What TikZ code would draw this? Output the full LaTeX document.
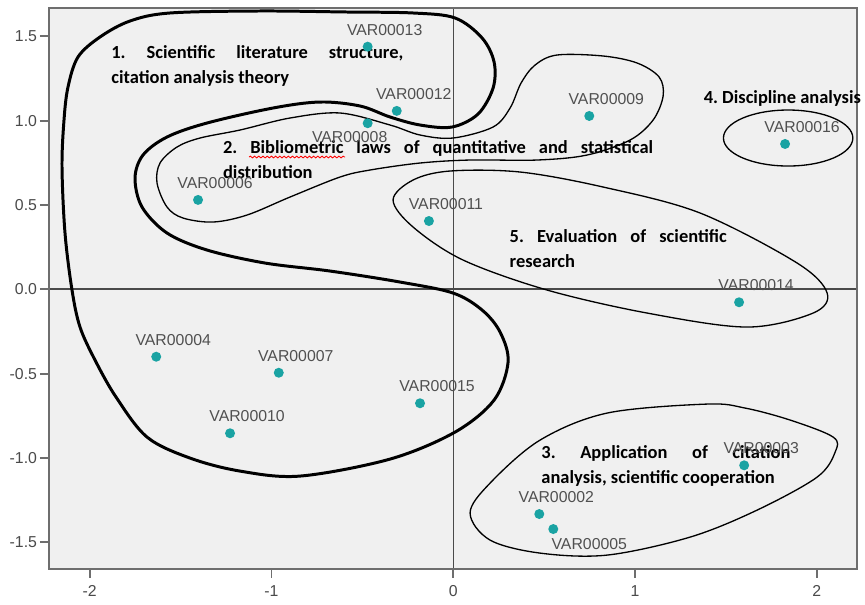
\documentclass[tikz,border=0pt]{standalone}
\usepackage{fontspec}
\setmainfont{Liberation Sans}
\newfontfamily\grpfont{Carlito}
\usetikzlibrary{positioning,decorations.pathmorphing}
\definecolor{C0}{HTML}{1AA3A3}
\definecolor{plotbg}{HTML}{F0F0F0}
\definecolor{axgray}{HTML}{4A4A4A}
\definecolor{framegray}{HTML}{6E6E6E}
\definecolor{lblgray}{HTML}{505050}
\frenchspacing
\tikzset{
    pt/.style = {circle, fill=C0, inner sep=0pt, minimum size=0.2cm},
    lbl/.style = {text=lblgray, font=\fontsize{9}{10}\selectfont, inner sep=0pt, xshift=0.34cm, yshift=0.34cm},
    ticklbl/.style = {text=axgray, font=\fontsize{9}{10}\selectfont, inner sep=0pt},
    grp/.style = {font=\grpfont\bfseries\fontsize{10.5}{14.2}\selectfont, inner sep=0pt, align=justify, anchor=base west},
    hull/.style = {line width=0.75pt},
    bighull/.style = {line width=1.7pt},
}

\begin{document}
\begin{tikzpicture}[x=3.636cm, y=3.372cm]
    \useasboundingbox [fill=white] (-2.4934,-1.8725) rectangle (2.2646,1.7159);
    % plot area and axes
    \fill [plotbg] (-2.2239,-1.659) rectangle (2.2195,1.6685);
    \draw [axgray, line width=0.9pt] (-2.2239,0) -- (2.2195,0);
    \draw [axgray, line width=0.9pt] (0,-1.659) -- (0,1.6685);
    \draw [framegray, line width=1.1pt] (-2.2239,-1.659) rectangle (2.2195,1.6685);
    \foreach \yy/\ylab [count=\i] in {-1.5/-1.5, -1/-1.0, -0.5/-0.5, 0/0.0, 0.5/0.5, 1/1.0, 1.5/1.5} {
        \draw [framegray, line width=1.1pt] (-2.2734,\yy) -- (-2.2239,\yy);
        \node [ticklbl, anchor=east] (ylab\i) at (-2.288,\yy) {\ylab};
    }
    \foreach \xx [count=\i] in {-2,-1,0,1,2} {
        \draw [framegray, line width=1.1pt] (\xx,-1.659) -- (\xx,-1.7124);
        \node [ticklbl] (xlab\i) at (\xx,-1.789) {\xx};
    }

    % group outlines (drawn in pixel units)
    \begin{scope}[x=0.02cm, y=-0.02cm, shift={(-9.066cm,5.786cm)}]
        \draw [bighull] plot [smooth cycle, tension=0.55] coordinates {
            (170,13) (260,11) (346,12) (413,13) (455,18) (482,38) (494,62) (493,88)
            (478,114) (452,127) (420,125) (390,117) (360,106) (320,102) (273,108)
            (207,123) (167,137) (143,155) (135,178) (142,207) (167,233) (207,250)
            (265,263) (330,271) (400,282) (453,293) (482,310) (500,332) (508,362)
            (494,400) (455,432) (390,459) (300,476) (240,471) (190,458) (147,437)
            (116,397) (95,360) (80,327) (72,290) (65,233) (62,167) (64,120) (68,87)
            (78,57) (100,37) (130,21)};
        \draw [hull] plot [smooth cycle, tension=0.55] coordinates {
            (200,138) (240,130) (290,118) (340,113) (390,125) (420,135) (453,138)
            (493,127) (510,108) (521,83) (535,65) (557,55) (603,56) (637,63)
            (659,77) (663,96) (653,120) (630,140) (587,155) (537,160) (470,160)
            (420,163) (370,170) (340,177) (290,197) (247,215) (213,222) (183,218)
            (167,207) (157,183) (160,163) (177,147)};
        \draw [hull] plot [smooth cycle, tension=0.55] coordinates {
            (393,200) (413,180) (450,171) (520,172) (603,187) (700,213) (797,263)
            (827,293) (813,313) (747,327) (647,313) (547,290) (463,260) (413,227)};
        \draw [hull] plot [smooth cycle, tension=0.55] coordinates {
            (470,513) (490,483) (540,440) (607,413) (707,404) (745,408) (790,420)
            (833,437) (835,452) (817,477) (757,510) (690,537) (607,555) (540,553)
            (490,540)};
        \draw [hull] (788,138) ellipse [x radius=1.294cm, y radius=0.56cm];

        % group titles
        \node [grp, text width=5.84cm] (g1) at (111,58.5) {1. Scientific literature structure,\linebreak citation analysis theory};
        \node [grp, text width=8.6cm] (g2) at (222.7,153.3) {2. Bibliometric laws of quantitative and statistical\linebreak distribution};
        \node [grp, text width=4.98cm] (g3) at (541,458.3) {3. Application of citation\linebreak \mbox{analysis, scientific cooperation}};
        \node [grp] (g4) at (703.3,103.3) {4. Discipline analysis};
        \node [grp, text width=4.34cm] (g5) at (509.3,242.7) {5. Evaluation of scientific\linebreak research};
        \draw [red, line width=0.5pt, decorate, decoration={snake, amplitude=0.5pt, segment length=2.4pt}] (249,157) -- (345,157);
    \end{scope}

    % objects
    \node [pt, label={[lbl]center:VAR00013}] (v13) at (-0.471,1.439) {};
    \node [pt, label={[lbl]center:VAR00012}] (v12) at (-0.311,1.058) {};
    \node [pt, label={[lbl, xshift=-0.7cm, yshift=-0.62cm]center:VAR00008}] (v08) at (-0.471,0.985) {};
    \node [pt, label={[lbl]center:VAR00009}] (v09) at (0.748,1.028) {};
    \node [pt, label={[lbl]center:VAR00016}] (v16) at (1.825,0.862) {};
    \node [pt, label={[lbl]center:VAR00006}] (v06) at (-1.404,0.530) {};
    \node [pt, label={[lbl]center:VAR00011}] (v11) at (-0.134,0.405) {};
    \node [pt, label={[lbl]center:VAR00014}] (v14) at (1.572,-0.077) {};
    \node [pt, label={[lbl]center:VAR00004}] (v04) at (-1.634,-0.400) {};
    \node [pt, label={[lbl]center:VAR00007}] (v07) at (-0.960,-0.495) {};
    \node [pt, label={[lbl]center:VAR00015}] (v15) at (-0.183,-0.676) {};
    \node [pt, label={[lbl]center:VAR00010}] (v10) at (-1.228,-0.854) {};
    \node [pt, label={[lbl]center:VAR00003}] (v03) at (1.600,-1.044) {};
    \node [pt, label={[lbl]center:VAR00002}] (v02) at (0.473,-1.333) {};
    \node [pt, label={[lbl, xshift=0.38cm, yshift=-0.64cm]center:VAR00005}] (v05) at (0.550,-1.422) {};
\end{tikzpicture}
\end{document}
